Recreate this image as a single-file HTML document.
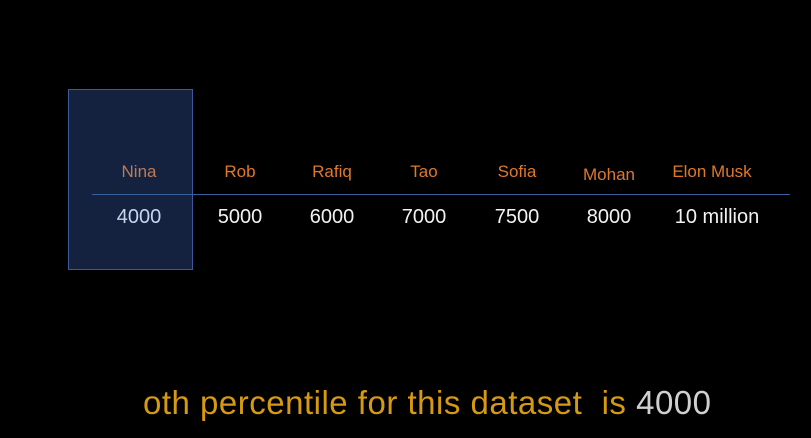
<!DOCTYPE html>
<html><head><meta charset="utf-8"><style>
body{margin:0;width:811px;height:438px;background:#000;overflow:hidden;position:relative;font-family:"Liberation Sans",sans-serif}
.n{position:absolute;top:162px;transform:translateX(-50%);color:#e0782a;font-size:17px;white-space:nowrap}
.v{position:absolute;top:206px;transform:translateX(-50%);color:#f2f2f2;font-size:20px;white-space:nowrap}
</style></head><body>
<div style="position:absolute;left:68px;top:89px;width:125px;height:181px;background:#14223f;border:1px solid #3a5a9a;box-sizing:border-box"></div>
<div style="position:absolute;left:92px;top:194px;width:698px;height:1px;background:#3c5fa0"></div>
<div id="t"></div>
<div style="position:absolute;left:143px;top:384px;font-size:33px;color:#d69a12;white-space:nowrap;letter-spacing:0.5px">oth percentile for this dataset&nbsp; is <span style="color:#d0d0d0">4000</span></div>
<script>
const names=["Nina","Rob","Rafiq","Tao","Sofia","Mohan","Elon Musk"];
const values=["4000","5000","6000","7000","7500","8000","10 million"];
const xs=[139,240,332,424,517,609,712];
const t=document.getElementById('t');
names.forEach((n,i)=>{
 const a=document.createElement('div');a.className='n';a.textContent=n;a.style.left=xs[i]+'px';
 if(i===0)a.style.color='#c07a55';if(i===5)a.style.top='165px';
 
 
 t.appendChild(a);
 const b=document.createElement('div');b.className='v';b.textContent=values[i];b.style.left=(xs[i]+(i===6?5:0))+'px';
 if(i===0)b.style.color='#c8d4ec';
 
 
 t.appendChild(b);
});
</script>
</body></html>
